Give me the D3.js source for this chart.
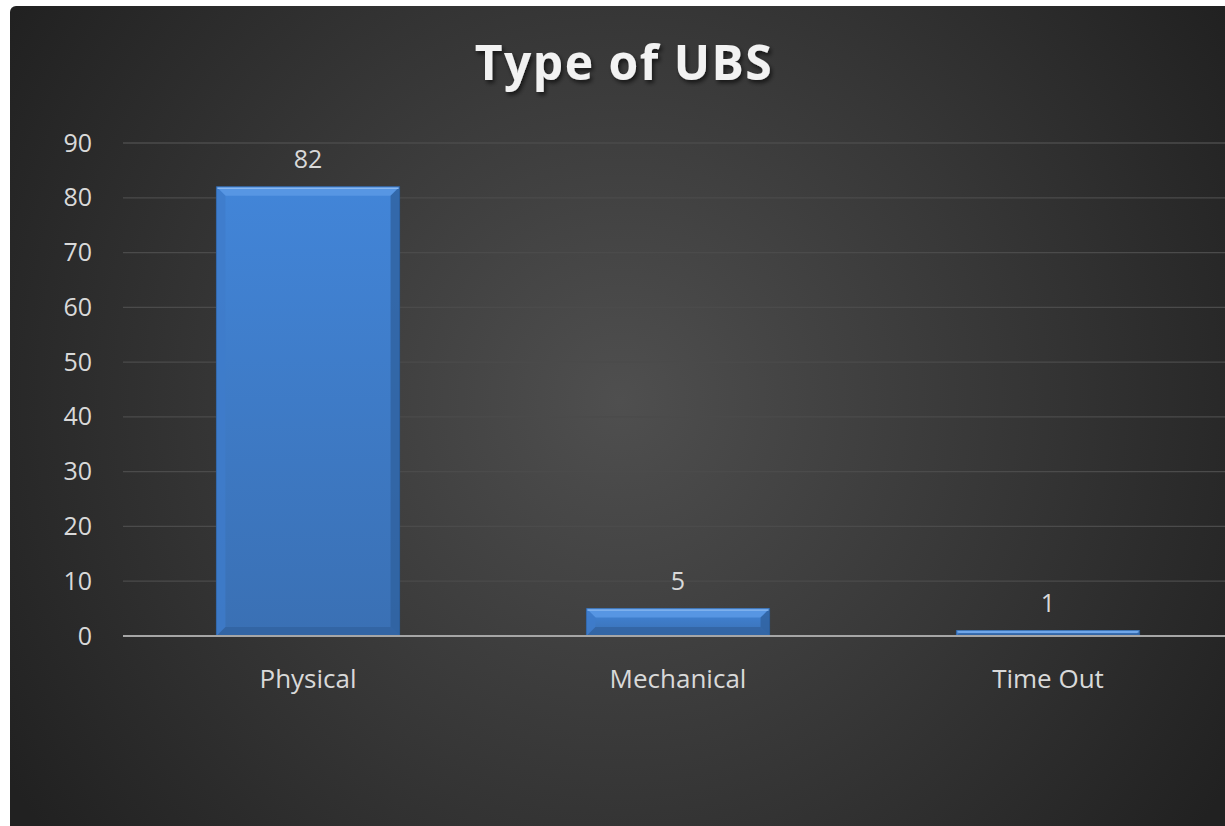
<!DOCTYPE html>
<html><head><meta charset="utf-8">
<script src="https://cdn.jsdelivr.net/npm/d3@7"></script>
<style>html,body{margin:0;padding:0;background:#fff;overflow:hidden}</style>
</head><body>
<svg id="c" width="1225" height="826"></svg>
<script>
const categories = ["Physical", "Mechanical", "Time Out"];
const values = [82, 5, 1];
const yTicks = [0, 10, 20, 30, 40, 50, 60, 70, 80, 90];
const title = "Type of UBS";

const svg = d3.select("#c");
const font = "'Open Sans', 'Noto Sans', sans-serif";
const defs = svg.append("defs");
const bg = defs.append("radialGradient").attr("id","bg").attr("gradientUnits","userSpaceOnUse")
  .attr("cx",620).attr("cy",400).attr("r",720);
bg.append("stop").attr("offset","0").attr("stop-color","#4f4f4f");
bg.append("stop").attr("offset","0.55").attr("stop-color","#363636");
bg.append("stop").attr("offset","1").attr("stop-color","#212121");
const bar = defs.append("linearGradient").attr("id","bar").attr("x1",0).attr("x2",0).attr("y1",0).attr("y2",1);
bar.append("stop").attr("offset","0").attr("stop-color","#4285d8");
bar.append("stop").attr("offset","1").attr("stop-color","#3a70b4");
const sh = defs.append("filter").attr("id","ts").attr("x","-10%").attr("y","-20%").attr("width","120%").attr("height","150%");
sh.append("feDropShadow").attr("dx",2).attr("dy",3).attr("stdDeviation",2).attr("flood-color","#000").attr("flood-opacity",0.6);

svg.append("rect").attr("x",10).attr("y",6).attr("width",1225).attr("height",830).attr("rx",6).attr("fill","url(#bg)");

const x = d3.scaleBand().domain(categories).range([123, 1233]).paddingInner(0.505).paddingOuter(0.2525);
const y = d3.scaleLinear().domain([0, 90]).range([636, 143]);

// gridlines
svg.append("g").selectAll("line").data(yTicks.filter(d=>d>0)).join("line")
  .attr("x1",123).attr("x2",1233).attr("y1",d=>y(d)).attr("y2",d=>y(d))
  .attr("stroke","#4b4b4b").attr("stroke-width",1.3);

// y axis labels
const yAxis = svg.append("g").attr("transform","translate(92,0)")
  .call(d3.axisLeft(y).tickValues(yTicks).tickSize(0).tickPadding(0));
yAxis.select(".domain").remove();
yAxis.selectAll("text").attr("font-family",font).attr("font-size",25).attr("fill","#d9d9d9");

// bars
const g = svg.append("g");
categories.forEach((c,i)=>{
  const x0 = x(c), w = x.bandwidth(), y0 = y(values[i]), h = y(0)-y(values[i]);
  const b = Math.min(9, h/2);
  g.append("rect").attr("x",x0).attr("y",y0).attr("width",w).attr("height",h).attr("fill","url(#bar)")
    .attr("stroke","#2b5a94").attr("stroke-width",1);
  g.append("path").attr("d",`M${x0},${y0}L${x0+w},${y0}L${x0+w-b},${y0+b}L${x0+b},${y0+b}Z`).attr("fill","#5a98e4").attr("opacity",0.9);
  g.append("path").attr("d",`M${x0},${y0}L${x0+b},${y0+b}L${x0+b},${y0+h-b}L${x0},${y0+h}Z`).attr("fill","#3e7ccb").attr("opacity",0.8);
  g.append("path").attr("d",`M${x0+w},${y0}L${x0+w-b},${y0+b}L${x0+w-b},${y0+h-b}L${x0+w},${y0+h}Z`).attr("fill","#2f619f").attr("opacity",0.8);
  g.append("path").attr("d",`M${x0},${y0+h}L${x0+b},${y0+h-b}L${x0+w-b},${y0+h-b}L${x0+w},${y0+h}Z`).attr("fill","#3263a0").attr("opacity",0.8);
  g.append("line").attr("x1",x0+1).attr("x2",x0+w-1).attr("y1",y0+1.5).attr("y2",y0+1.5).attr("stroke","#8ab8f0").attr("stroke-width",1.2);
  g.append("text").attr("x",x0+w/2).attr("y",y0-19).attr("text-anchor","middle")
    .attr("font-family",font).attr("font-size",25).attr("fill","#d9d9d9").text(values[i]);
});

// zero axis line
svg.append("line").attr("x1",123).attr("x2",1233).attr("y1",y(0)).attr("y2",y(0)).attr("stroke","#a6a6a6").attr("stroke-width",2);

// x axis labels
const xAxis = svg.append("g").attr("transform",`translate(0,${y(0)})`).call(d3.axisBottom(x).tickSize(0).tickPadding(34));
xAxis.select(".domain").remove();
xAxis.selectAll("text").attr("font-family",font).attr("font-size",26).attr("fill","#d9d9d9");

// title
svg.append("text").attr("x",624).attr("y",80).attr("text-anchor","middle").attr("font-family",font)
  .attr("font-weight","bold").attr("font-size",48).attr("fill","#f2f2f2").attr("letter-spacing",1.5)
  .attr("filter","url(#ts)").text(title);
</script>
</body></html>
